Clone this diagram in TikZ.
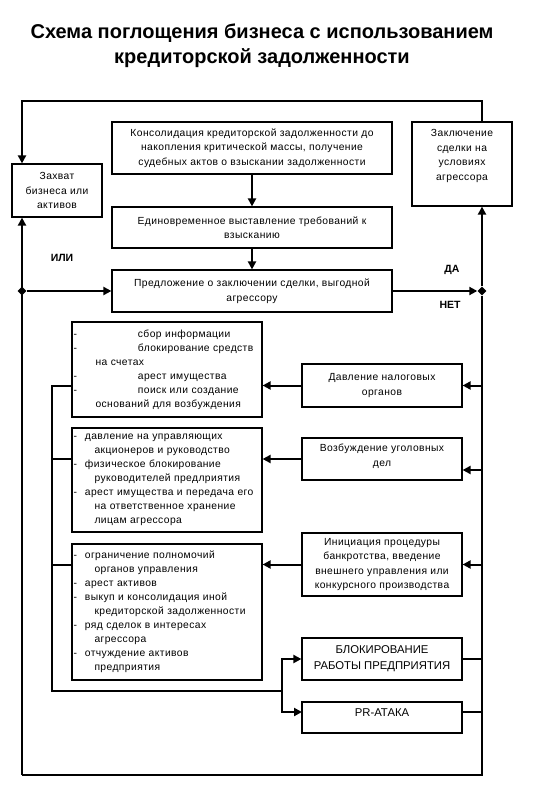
\documentclass[tikz,border=0pt]{standalone}
\usepackage{fontspec}
\setmainfont{Liberation Sans}
\newfontfamily\spacedfont[LetterSpace=4]{Liberation Sans}
\usetikzlibrary{positioning}
\usetikzlibrary{shapes.geometric}
\usetikzlibrary {arrows.meta}

\begin{document}
\begin{tikzpicture}[x=1pt, y=-1pt]
    \tikzset{
        stagebox/.style={rectangle, draw, line width=1.2pt, align=center, font=\spacedfont\fontsize{10.3}{14.5}\selectfont, inner sep=2pt},
        listbox/.style={rectangle, draw, line width=1.2pt, align=left, font=\spacedfont\fontsize{10.3}{14}\selectfont, inner xsep=1.5pt, text width=187pt, minimum width=190pt},
        capsbox/.style={rectangle, draw, line width=1.2pt, align=center, font=\fontsize{11.3}{16}\selectfont, minimum width=160pt},
        label/.style={font=\bfseries\fontsize{10.5}{12}\selectfont},
        junction/.style={diamond, fill, inner sep=0pt, minimum size=9pt},
        line/.style={draw, line width=2pt},
        flow/.style={draw, line width=2pt, -{Triangle[length=8pt, width=8pt]}}
    }
    \useasboundingbox (0,0) rectangle (550,791);

    \node[font=\bfseries\fontsize{20}{25}\selectfont, align=center] (title) at (262,46) {Схема поглощения бизнеса с использованием\\кредиторской задолженности};

    \node[stagebox, minimum width=90pt, minimum height=53pt] (capture) at (57,190.5) {Захват\\бизнеса или\\активов};
    \node[stagebox, minimum width=280pt, minimum height=52pt] (consolid) at (252,148) {Консолидация кредиторской задолженности до\\накопления критической массы, получение\\судебных актов о взыскании задолженности};
    \node[stagebox, minimum width=280pt, minimum height=41pt] (claims) at (252,227.5) {Единовременное выставление требований к\\взысканию};
    \node[stagebox, minimum width=280pt, minimum height=42pt] (offer) at (252,291) {Предложение о заключении сделки, выгодной\\агрессору};
    \node[stagebox, minimum width=100pt, minimum height=84pt, text depth=18pt] (deal) at (462,164) {Заключение\\сделки на\\условиях\\агрессора};

    \node[stagebox, minimum width=160pt, minimum height=43pt] (tax) at (382,385.5) {Давление налоговых\\органов};
    \node[stagebox, minimum width=160pt, minimum height=42pt, text depth=8pt] (criminal) at (382,459) {Возбуждение уголовных\\дел};
    \node[stagebox, minimum width=160pt, minimum height=63pt] (bankrupt) at (382,564.5) {Инициация процедуры\\банкротства, введение\\внешнего управления или\\конкурсного производства};
    \node[capsbox, minimum height=42pt] (blocking) at (382,659) {БЛОКИРОВАНИЕ\\РАБОТЫ ПРЕДПРИЯТИЯ};
    \node[capsbox, minimum height=31pt, text depth=9pt] (pr) at (382,717.5) {PR-АТАКА};

    \node[listbox, minimum height=95pt] (list_tax) at (167,369.5) {-\hspace*{61pt}сбор информации\\-\hspace*{61pt}блокирование средств\\\hspace*{22pt}на счетах\\-\hspace*{61pt}арест имущества\\-\hspace*{61pt}поиск или создание\\\hspace*{22pt}оснований для возбуждения};
    \node[listbox, minimum height=104pt] (list_criminal) at (167,480) {-\hspace*{8pt}давление на управляющих\\\hspace*{21pt}акционеров и руководство\\-\hspace*{8pt}физическое блокирование\\\hspace*{21pt}руководителей предлриятия\\-\hspace*{8pt}арест имущества и передача его\\\hspace*{21pt}на ответственное хранение\\\hspace*{21pt}лицам агрессора};
    \node[listbox, minimum height=136pt] (list_bankrupt) at (167,612) {-\hspace*{8pt}ограничение полномочий\\\hspace*{21pt}органов управления\\-\hspace*{8pt}арест активов\\-\hspace*{8pt}выкуп и консолидация иной\\\hspace*{21pt}кредиторской задолженности\\-\hspace*{8pt}ряд сделок в интересах\\\hspace*{21pt}агрессора\\-\hspace*{8pt}отчуждение активов\\\hspace*{21pt}предприятия};

    \node[junction] (join_left) at (22,291) {};
    \node[junction] (join_right) at (482,291) {};
    \node[label] (or_label) at (62,258) {ИЛИ};
    \node[label] (yes_label) at (452,270) {ДА};
    \node[label] (no_label) at (450,305) {НЕТ};

    \coordinate (top_left) at (22,101);
    \coordinate (top_right) at (482,101);
    \coordinate (bottom_left) at (22,775);
    \coordinate (bottom_right) at (482,775);
    \coordinate (inner_bottom) at (52,691);
    \coordinate (fork) at (282,691);
    \coordinate (criminal_in) at (482,470);
    \coordinate (pr_in) at (302,712);

    \path[flow] (deal.north -| top_right) -- (top_right) -- (top_left) -- (capture.north -| top_left);
    \path[flow] (bottom_left) -- (capture.south -| bottom_left);
    \path[flow] (join_left) -- (offer.west);
    \path[flow] (offer.east) -- (join_right.west);
    \path[flow] (join_right) -- (deal.south -| join_right);
    \path[line] (join_right) -- (bottom_right) -- (bottom_left);
    \path[flow] (consolid) -- (claims);
    \path[flow] (claims) -- (offer);

    \path[flow] (tax.east -| join_right) -- (tax.east);
    \path[flow] (criminal_in) -- (criminal_in -| criminal.east);
    \path[flow] (bankrupt.east -| join_right) -- (bankrupt.east);
    \path[flow] (tax.west) -- (tax.west -| list_tax.east);
    \path[flow] (criminal.west) -- (criminal.west -| list_criminal.east);
    \path[flow] (bankrupt.west) -- (bankrupt.west -| list_bankrupt.east);

    \path[line] (tax.west -| list_tax.west) -| (inner_bottom) -- (fork);
    \path[line] (criminal.west -| list_criminal.west) -- (criminal.west -| inner_bottom);
    \path[line] (bankrupt.west -| list_bankrupt.west) -- (bankrupt.west -| inner_bottom);
    \path[flow] (fork) |- (blocking.west);
    \path[flow] (fork) |- (pr_in);
    \path[line] (blocking.east) -- (blocking.east -| bottom_right);
    \path[line] (pr_in -| pr.east) -- (pr_in -| bottom_right);
\end{tikzpicture}
\end{document}
